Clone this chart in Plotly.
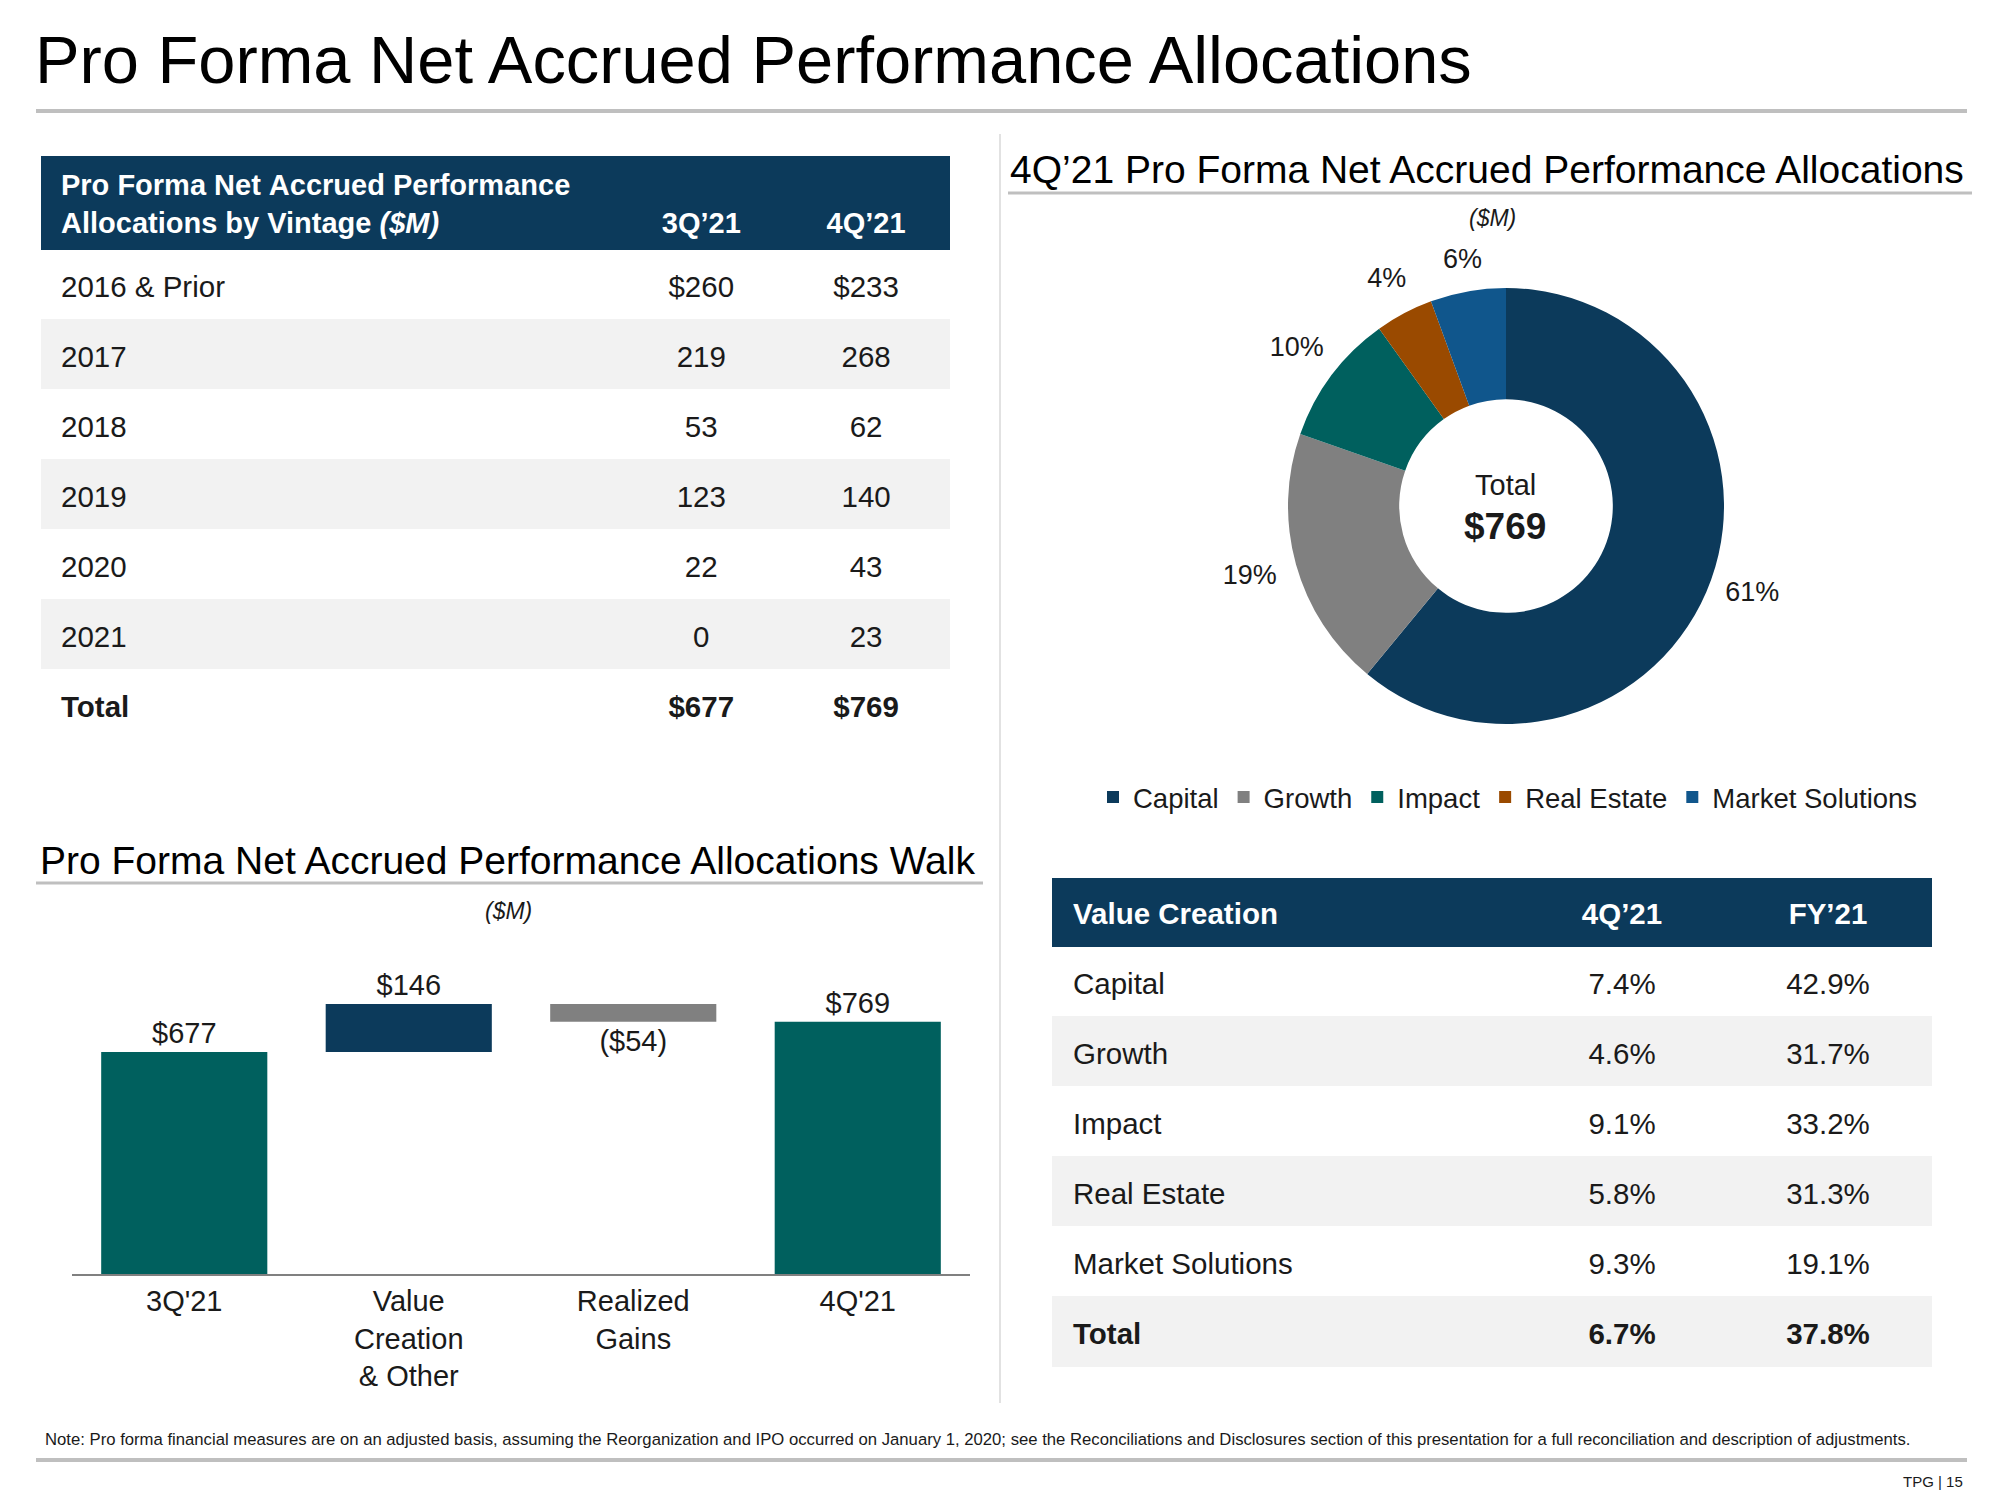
import plotly.graph_objects as go

# ---------------- data ----------------
vintages = ["2016 & Prior", "2017", "2018", "2019", "2020", "2021"]
vintage_3q21 = [260, 219, 53, 123, 22, 0]
vintage_4q21 = [233, 268, 62, 140, 43, 23]

segments = ["Capital", "Growth", "Impact", "Real Estate", "Market Solutions"]
segment_alloc = [469, 149, 75, 33, 43]  # $M, 4Q'21 (sum 769)

vc_4q21 = [7.4, 4.6, 9.1, 5.8, 9.3]
vc_fy21 = [42.9, 31.7, 33.2, 31.3, 19.1]
vc_total_4q21 = 6.7
vc_total_fy21 = 37.8

walk_categories = ["3Q'21", "Value Creation & Other", "Realized Gains", "4Q'21"]
walk_ticklabels = ["3Q'21", "Value<br>Creation<br>& Other", "Realized<br>Gains", "4Q'21"]
walk_values = [677, 146, -54, 0]
walk_measures = ["absolute", "relative", "relative", "total"]

# ---------------- style ----------------
W, H = 2000, 1500
NB = "\u00a0"
FONT = "Liberation Sans, Arial, sans-serif"
NAVY = "#0C3A5B"
TEAL = "#00605E"
GRAY = "#808080"
BROWN = "#9A4A00"
BLUE = "#10568C"
BAND = "#F2F2F2"
TXT = "#1A1A1A"
RULE = "#BFBFBF"
CLEAR = "rgba(0,0,0,0)"


def nb(t):
    return "<span>" + t.replace(" ", NB) + "</span>"


def px(x):
    return x / W


def py(y):
    return 1 - y / H


fig = go.Figure()


def add_table(x0, x1, top, hdr_h, row_h, colwidths, hdr_vals, cols, fills, hdr_shift, cell_shift, hsize, csize):
    n = len(cols[0])
    ncol = len(cols)
    aligns = ["left", "left", "center", "center"]
    # background (fills only)
    fig.add_trace(go.Table(
        domain=dict(x=[px(x0), px(x1)], y=[py(top + hdr_h + row_h * n + 3), py(top)]),
        columnwidth=colwidths,
        header=dict(values=[""] * ncol, fill_color=NAVY, line=dict(color=NAVY, width=1), height=hdr_h),
        cells=dict(values=[[""] * n] * ncol, fill_color=[fills] * ncol,
                   line=dict(color=[fills] * ncol, width=1), height=row_h),
    ))
    # text layer, nudged down so text sits vertically centred in each band
    t2 = top + hdr_shift
    h2 = hdr_h + cell_shift - hdr_shift
    fig.add_trace(go.Table(
        domain=dict(x=[px(x0), px(x1)], y=[py(t2 + h2 + row_h * n + 3), py(t2)]),
        columnwidth=colwidths,
        header=dict(values=hdr_vals, fill_color=CLEAR, line=dict(color=CLEAR, width=0),
                    font=dict(family=FONT, size=hsize, color="white"), height=h2, align=aligns),
        cells=dict(values=cols, fill_color=CLEAR, line=dict(color=CLEAR, width=0),
                   font=dict(family=FONT, size=csize, color=TXT), height=row_h, align=aligns),
    ))


# ---------------- left table ----------------
q3_tot = sum(vintage_3q21)
q4_tot = sum(vintage_4q21)
col_lab = [nb(v) for v in vintages] + ["<b>Total</b>"]
col_q3 = [nb(("$" if i == 0 else "") + str(v)) for i, v in enumerate(vintage_3q21)] + [f"<b>${q3_tot}</b>"]
col_q4 = [nb(("$" if i == 0 else "") + str(v)) for i, v in enumerate(vintage_4q21)] + [f"<b>${q4_tot}</b>"]
nrow = len(col_lab)
fills_left = ["white" if i % 2 == 0 else BAND for i in range(nrow)]
hdr_left = ["",
            "<b>" + "Pro Forma Net Accrued Performance".replace(" ", NB) + "</b><br><b>"
            + "Allocations by Vintage ".replace(" ", NB) + "<i>($M)</i></b>",
            NB + "<br><b>3Q’21</b>", NB + "<br><b>4Q’21</b>"]
add_table(41, 950, 156, 93, 70, [12, 567, 164, 166], hdr_left,
          [[""] * nrow, col_lab, col_q3, col_q4], fills_left, 5, 13, 29, 29.5)

# ---------------- right table ----------------
vc_lab = [nb(s) for s in segments] + ["<b>Total</b>"]
vc_q = [nb(f"{v:.1f}%") for v in vc_4q21] + [f"<b>{vc_total_4q21:.1f}%</b>"]
vc_f = [nb(f"{v:.1f}%") for v in vc_fy21] + [f"<b>{vc_total_fy21:.1f}%</b>"]
nr2 = len(vc_lab)
fills_right = ["white" if i % 2 == 0 else BAND for i in range(nr2)]
add_table(1052, 1931, 878, 68, 70, [13, 454, 206, 206],
          ["", "<b>" + "Value Creation".replace(" ", NB) + "</b>", "<b>4Q’21</b>", "<b>FY’21</b>"],
          [[""] * nr2, vc_lab, vc_q, vc_f], fills_right, 11, 13, 29.5, 29.5)

# ---------------- donut ----------------
CX, CY, R = 1506, 506, 218
PIE_X = [px(CX - R), px(CX + R)]
PIE_Y = [py(CY + R), py(CY - R)]
fig.add_trace(go.Pie(
    labels=segments, values=segment_alloc,
    hole=0.49, sort=False, direction="clockwise", rotation=0,
    marker=dict(colors=[NAVY, GRAY, TEAL, BROWN, BLUE], line=dict(width=0)),
    textinfo="none", domain=dict(x=PIE_X, y=PIE_Y),
    showlegend=True, hoverinfo="label+value+percent",
))

# percentage labels on a hidden polar axis concentric with the donut
# (radial unit = donut outer radius; polar frame is 1.4x larger so labels fall inside its range)
POLAR_SCALE = 1.4
RP = R * POLAR_SCALE
alloc_total = sum(segment_alloc)
mid_angles = []
run = 0
for v in segment_alloc:
    mid_angles.append((run + v / 2) / alloc_total * 360)
    run += v
pct_text = [f"{round(v / alloc_total * 100)}%" for v in segment_alloc]
label_r = [1.2, 1.22, 1.2, 1.17, 1.14]
fig.add_trace(go.Scatterpolar(
    r=label_r, theta=mid_angles, mode="text", text=pct_text,
    textfont=dict(family=FONT, size=27, color=TXT), cliponaxis=False,
    showlegend=False, hoverinfo="skip", subplot="polar",
))

# ---------------- waterfall ----------------
walk_total = sum(walk_values[:3])


def money(v):
    return f"${v}" if v >= 0 else f"(${-v})"


walk_text = [money(v if m != "total" else walk_total) for v, m in zip(walk_values, walk_measures)]
fig.add_trace(go.Waterfall(
    x=walk_categories, y=walk_values, measure=walk_measures,
    text=walk_text, textposition="outside", cliponaxis=False,
    textfont=dict(family=FONT, size=29, color=TXT),
    increasing=dict(marker=dict(color=NAVY)),
    decreasing=dict(marker=dict(color=GRAY)),
    totals=dict(marker=dict(color=TEAL)),
    connector=dict(visible=False), width=0.74, showlegend=False,
    xaxis="x", yaxis="y",
))

fig.update_layout(
    width=W, height=H, margin=dict(l=0, r=0, t=0, b=0),
    paper_bgcolor="white", plot_bgcolor="white",
    font=dict(family=FONT, color=TXT),
    xaxis=dict(domain=[px(72), px(970)], anchor="y", type="category",
               tickvals=walk_categories, ticktext=walk_ticklabels,
               tickfont=dict(family=FONT, size=29, color=TXT), tickangle=0,
               showline=True, linecolor="#808080", linewidth=2, showgrid=False,
               ticks="", automargin=False, fixedrange=True),
    yaxis=dict(domain=[py(1274), py(946)], range=[0, 1000], visible=False,
               automargin=False, fixedrange=True),
    polar=dict(domain=dict(x=[px(CX - RP), px(CX + RP)], y=[py(CY + RP), py(CY - RP)]),
               bgcolor=CLEAR, hole=0,
               radialaxis=dict(range=[0, POLAR_SCALE], visible=False),
               angularaxis=dict(rotation=90, direction="clockwise", visible=False)),
    legend=dict(orientation="h", x=px(1508), xanchor="center", y=py(797), yanchor="middle",
                font=dict(family=FONT, size=27.5, color=TXT), itemwidth=30,
                bgcolor=CLEAR),
    showlegend=True,
)

# ---------------- decorations ----------------
shapes = [
    dict(type="line", xref="paper", yref="paper", x0=px(36), x1=px(1967), y0=py(111), y1=py(111), line=dict(color=RULE, width=4)),
    dict(type="line", xref="paper", yref="paper", x0=px(36), x1=px(1967), y0=py(1460), y1=py(1460), line=dict(color=RULE, width=4)),
    dict(type="line", xref="paper", yref="paper", x0=px(1008), x1=px(1972), y0=py(193), y1=py(193), line=dict(color=RULE, width=3)),
    dict(type="line", xref="paper", yref="paper", x0=px(36), x1=px(983), y0=py(883), y1=py(883), line=dict(color=RULE, width=3)),
    dict(type="line", xref="paper", yref="paper", x0=px(1000), x1=px(1000), y0=py(134), y1=py(1403), line=dict(color="#D9D9D9", width=1.5)),
]
fig.update_layout(shapes=shapes)


def ann(text, x, y, size, xanchor="left", color="#000000"):
    fig.add_annotation(text=text, x=px(x), y=py(y), xref="paper", yref="paper",
                       xanchor=xanchor, yanchor="middle", showarrow=False,
                       font=dict(family=FONT, size=size, color=color))


ann("Pro Forma Net Accrued Performance Allocations", 33, 60, 66.8)
ann("4Q’21 Pro Forma Net Accrued Performance Allocations", 1008, 169, 39)
ann("<i>($M)</i>", 1492, 218, 23, xanchor="center", color=TXT)
ann("Pro Forma Net Accrued Performance Allocations Walk", 38, 861, 39)
ann("<i>($M)</i>", 508, 911, 23, xanchor="center", color=TXT)
ann("Total", 1505, 485, 29, xanchor="center", color=TXT)
ann(f"<b>${alloc_total}</b>", 1505, 526, 37, xanchor="center", color=TXT)
ann("Note: Pro forma financial measures are on an adjusted basis, assuming the Reorganization and IPO occurred on January 1, 2020; "
    "see the Reconciliations and Disclosures section of this presentation for a full reconciliation and description of adjustments.",
    43, 1439, 16.7, color=TXT)
ann("TPG | 15", 1965, 1481, 15, xanchor="right", color=TXT)

fig.write_html("out.html")
